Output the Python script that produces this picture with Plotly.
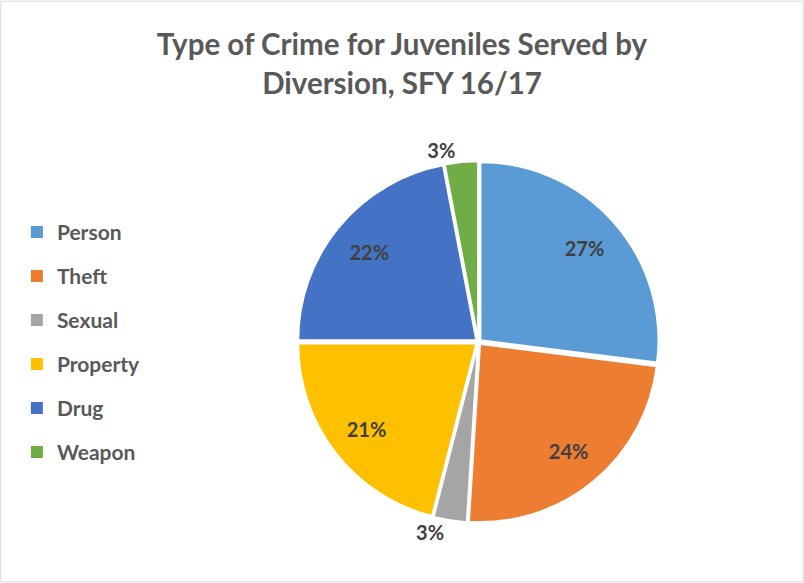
import plotly.graph_objects as go

# Share of juveniles served by diversion, by type of crime (percent)
categories = ["Person", "Theft", "Sexual", "Property", "Drug", "Weapon"]
shares = [27, 24, 3, 21, 22, 3]
colors = ["#5B9BD5", "#ED7D31", "#A5A5A5", "#FFC000", "#4472C4", "#70AD47"]
small_slice = [s < 5 for s in shares]

W, H = 804, 583
font_family = "Lato, 'Open Sans', sans-serif"
pie_domain = dict(x=[0.35, 0.84], y=[0.1034, 0.7234])
pull = [0.015] * len(categories)
label_font = dict(family=font_family, size=20, color="#404040", weight="bold")

fig = go.Figure()

# Full pie; small slices carry their percentage outside the rim
fig.add_trace(go.Pie(
    labels=categories,
    values=shares,
    sort=False,
    direction="clockwise",
    rotation=0,
    marker=dict(colors=colors, line=dict(color="white", width=2)),
    pull=pull,
    texttemplate=["%{percent:.0%}" if s else "" for s in small_slice],
    textposition="outside",
    textfont=label_font,
    showlegend=False,
    hoverinfo="label+percent",
    domain=pie_domain,
))

# Transparent ring over the same slices, only to place large-slice labels toward the rim
fig.add_trace(go.Pie(
    labels=categories,
    values=shares,
    sort=False,
    direction="clockwise",
    rotation=0,
    hole=0.56,
    marker=dict(colors=["rgba(0,0,0,0)"] * len(categories), line=dict(width=0)),
    pull=pull,
    texttemplate=["" if s else "%{percent:.0%}" for s in small_slice],
    textposition="inside",
    insidetextorientation="horizontal",
    textfont=label_font,
    showlegend=False,
    hoverinfo="skip",
    domain=pie_domain,
))

# Legend entries as square swatches, one group each for even spacing
for name, col in zip(categories, colors):
    fig.add_trace(go.Scatter(
        x=[None], y=[None], mode="markers",
        marker=dict(symbol="square", size=12, color=col),
        name=name, legendgroup=name, showlegend=True,
    ))

fig.update_layout(
    width=W, height=H,
    margin=dict(l=0, r=0, t=0, b=0),
    paper_bgcolor="white",
    plot_bgcolor="white",
    title=dict(
        text="Type of Crime for Juveniles Served by<br>Diversion, SFY 16/17",
        x=0.5, xanchor="center", y=0.905, yanchor="top",
        font=dict(family=font_family, size=29.5, color="#595959", weight="bold"),
    ),
    legend=dict(
        x=0.021, xanchor="left", y=0.6366, yanchor="top",
        font=dict(family=font_family, size=21, color="#595959", weight="bold"),
        tracegroupgap=13.7, itemwidth=30,
    ),
    xaxis=dict(visible=False),
    yaxis=dict(visible=False),
    shapes=[dict(type="rect", xref="paper", yref="paper", x0=0.001, y0=0.002,
                 x1=0.999, y1=0.998, line=dict(color="#D9D9D9", width=1))],
)

fig.write_html("out.html")
